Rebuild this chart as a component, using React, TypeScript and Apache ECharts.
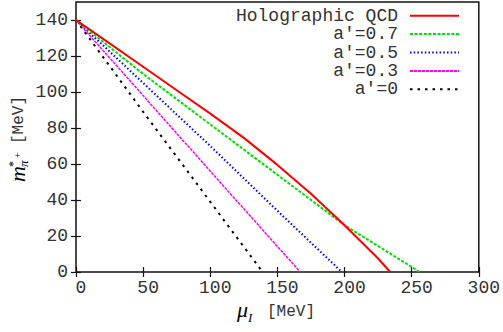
import { useEffect, useRef } from 'react';
import * as echarts from 'echarts';

const seriesNames = ['Holographic QCD', 'a′=0.7', 'a′=0.5', 'a′=0.3', 'a′=0'];

const holoX = [0, 25, 50, 75, 100, 125, 150, 175, 200, 225, 234];
const holoY = [140, 127, 114, 101, 88, 74.5, 59.5, 43.5, 26, 7.5, 0];

const a07X = [0, 50, 100, 150, 200, 256];
const a07Y = [140, 110, 82, 54, 26, 0];

const a05X = [0, 50, 100, 150, 198];
const a05Y = [140, 105, 70, 34, 0];

const a03X = [0, 50, 100, 167];
const a03Y = [140, 98, 56, 0];

const a0X = [0, 50, 100, 139];
const a0Y = [140, 89, 39, 0];

const xTicks = [0, 50, 100, 150, 200, 250, 300];
const yTicks = [0, 20, 40, 60, 80, 100, 120, 140];

const MONO = '"Liberation Mono", "DejaVu Sans Mono", monospace';
const SERIF = '"Liberation Serif", "DejaVu Serif", serif';
const TXT = '#333';

function pairs(xs: number[], ys: number[]) {
  return xs.map((x, i) => [x, ys[i]]);
}

function t(text: string, x: number, y: number, font: string, fill: string) {
  return { type: 'text', x, y, style: { text, font, fill, verticalAlign: 'middle', align: 'left' } };
}

export default function App() {
  const ref = useRef<HTMLDivElement>(null);
  useEffect(() => {
    document.body.style.margin = '0';
    const chart = echarts.init(ref.current!, null, { renderer: 'svg' });
    const styles = [
      { color: '#ff0000', width: 2, type: 'solid' as any },
      { color: '#00e000', width: 2, type: [3, 1.6] },
      { color: '#0000ff', width: 2, type: [1.5, 2.2] },
      { color: '#ff00ff', width: 1.5, type: [3, 1] },
      { color: '#000000', width: 2, type: [2.5, 5] },
    ];
    const datas = [
      pairs(holoX, holoY),
      pairs(a07X, a07Y),
      pairs(a05X, a05Y),
      pairs(a03X, a03Y),
      pairs(a0X, a0Y),
    ];
    const axisCommonX = {
      type: 'value',
      min: 0,
      max: 300,
      interval: 50,
      splitLine: { show: false },
      axisLine: { show: false },
    };
    const axisCommonY = {
      type: 'value',
      min: 0,
      max: 150,
      interval: 10,
      splitLine: { show: false },
      axisLine: { show: false },
    };
    const tickStyle = { color: '#111', width: 1.2 };
    chart.setOption({
      animation: false,
      grid: {
        left: 76,
        right: 21,
        top: 2,
        bottom: 60,
        show: true,
        borderColor: '#111',
        borderWidth: 1.5,
        containLabel: false,
      },
      xAxis: [
        {
          ...axisCommonX,
          position: 'bottom',
          axisTick: { show: true, inside: true, length: 5, customValues: xTicks, lineStyle: tickStyle },
          axisLabel: {
            show: true,
            customValues: xTicks,
            margin: 7,
            padding: [0, 0, 0, 10],
            fontFamily: MONO,
            fontSize: 18,
            color: TXT,
          },
        },
        {
          ...axisCommonX,
          position: 'top',
          axisTick: { show: true, inside: true, length: 5, customValues: xTicks, lineStyle: tickStyle },
          axisLabel: { show: false },
        },
      ],
      yAxis: [
        {
          ...axisCommonY,
          position: 'left',
          axisTick: { show: true, inside: true, length: 5, customValues: yTicks, lineStyle: tickStyle },
          axisLabel: {
            show: true,
            customValues: yTicks,
            margin: 8,
            fontFamily: MONO,
            fontSize: 18,
            color: TXT,
          },
        },
        {
          ...axisCommonY,
          position: 'right',
          axisTick: { show: true, inside: true, length: 5, customValues: yTicks, lineStyle: tickStyle },
          axisLabel: { show: false },
        },
      ],
      legend: {
        orient: 'vertical',
        right: 38,
        top: 1.7,
        align: 'right',
        itemWidth: 49,
        itemHeight: 12,
        itemGap: 0.4,
        data: seriesNames,
        itemStyle: { opacity: 0 },
        textStyle: {
          fontFamily: MONO,
          fontSize: 18,
          lineHeight: 18,
          color: TXT,
          padding: [0, 7, 0, 0],
        },
      },
      series: seriesNames.map((name, i) => ({
        name,
        type: 'line',
        data: datas[i],
        showSymbol: false,
        symbol: 'none',
        smooth: false,
        z: 10 - i,
        lineStyle: styles[i],
        itemStyle: { color: styles[i].color },
      })),
      graphic: [
        {
          type: 'group',
          x: 20,
          y: 140,
          rotation: Math.PI / 2,
          children: [
            t('m', -42, -3, 'italic 22px ' + SERIF, '#000'),
            t('*', -27, -7, '12px ' + SERIF, '#000'),
            t('π', -27, 3, 'italic 13px ' + SERIF, '#000'),
            t('+', -18, -3, '10px ' + SERIF, '#000'),
            t('[MeV]', -4, -1, '16px ' + MONO, TXT),
          ],
        },
        t('μ', 237, 309, 'italic 22px ' + SERIF, '#000'),
        t('I', 248, 317, 'italic 13px ' + SERIF, '#000'),
        t('[MeV]', 267, 312, '16px ' + MONO, TXT),
      ],
    });
    return () => chart.dispose();
  }, []);
  return <div ref={ref} style={{ width: 503, height: 332 }} />;
}
